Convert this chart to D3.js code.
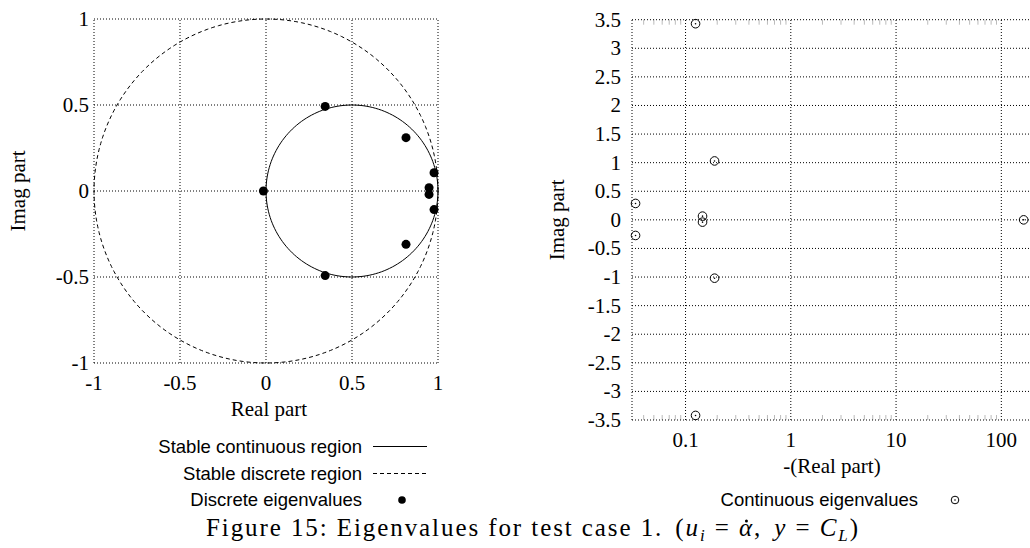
<!DOCTYPE html>
<html><head><meta charset="utf-8">
<script src="https://cdn.jsdelivr.net/npm/d3@7"></script>
<style>body{margin:0;background:#fff}</style>
</head><body>
<svg id="fig" width="1030" height="548"></svg>
<script>
// Discrete-time eigenvalues (z-plane)
const discreteRe = [-0.015, 0.344, 0.344, 0.814, 0.814, 0.977, 0.977, 0.948, 0.948];
const discreteIm = [0, 0.492, -0.492, 0.31, -0.31, 0.106, -0.108, 0.019, -0.02];
// Continuous-time eigenvalues, plotted as -(real part) on a log axis
const contNegRe = [0.1245, 0.1245, 0.1886, 0.1886, 0.0335, 0.0335, 0.145, 0.145, 163];
const contIm = [3.43, -3.42, 1.03, -1.02, 0.287, -0.273, 0.065, -0.04, 0];
// Axis ticks
const leftTicks = [-1, -0.5, 0, 0.5, 1];
const leftTickLabels = ["-1", "-0.5", "0", "0.5", "1"];
const rightYTicks = [-3.5, -3, -2.5, -2, -1.5, -1, -0.5, 0, 0.5, 1, 1.5, 2, 2.5, 3, 3.5];
const rightYTickLabels = ["-3.5", "-3", "-2.5", "-2", "-1.5", "-1", "-0.5", "0", "0.5", "1", "1.5", "2", "2.5", "3", "3.5"];
const rightXTicks = [0.1, 1, 10, 100];
const rightXTickLabels = ["0.1", "1", "10", "100"];
// Stability regions: centre (re, im) and radius
const contRegion = {cx: 0.5, cy: 0, r: 0.5};
const discRegion = {cx: 0, cy: 0, r: 1};

const svg = d3.select("#fig");
const serif = "'Liberation Serif', 'Times New Roman', serif";
const sans = "'Liberation Sans', Arial, sans-serif";
const dotted = "1 2";

// ---------- left panel: z-plane ----------
const xL = d3.scaleLinear().domain([-1, 1]).range([94, 438]);
const yL = d3.scaleLinear().domain([-1, 1]).range([363, 19]);
const gL = svg.append("g");

leftTicks.forEach(t => {
  gL.append("line").attr("x1", xL(t)).attr("x2", xL(t)).attr("y1", yL(-1)).attr("y2", yL(1))
    .attr("stroke", "#000").attr("stroke-dasharray", dotted);
  gL.append("line").attr("x1", xL(-1)).attr("x2", xL(1)).attr("y1", yL(t)).attr("y2", yL(t))
    .attr("stroke", "#000").attr("stroke-dasharray", dotted);
});
leftTicks.forEach((t, i) => {
  gL.append("text").attr("x", xL(t)).attr("y", yL(-1) + 27).attr("text-anchor", "middle")
    .attr("font-family", serif).attr("font-size", 21).text(leftTickLabels[i]);
  gL.append("text").attr("x", xL(-1) - 5).attr("y", yL(t) + 7).attr("text-anchor", "end")
    .attr("font-family", serif).attr("font-size", 21).text(leftTickLabels[i]);
});

function circlePath(c, xs, ys) {
  const pts = d3.range(0, 361, 2).map(a => [c.cx + c.r * Math.cos(a * Math.PI / 180), c.cy + c.r * Math.sin(a * Math.PI / 180)]);
  return d3.line().x(d => xs(d[0])).y(d => ys(d[1]))(pts);
}
gL.append("path").attr("d", circlePath(discRegion, xL, yL)).attr("fill", "none")
  .attr("stroke", "#000").attr("stroke-width", 1).attr("stroke-dasharray", "4 3");
gL.append("path").attr("d", circlePath(contRegion, xL, yL)).attr("fill", "none")
  .attr("stroke", "#000").attr("stroke-width", 1);

gL.selectAll("circle.de").data(discreteRe).join("circle").attr("class", "de")
  .attr("cx", d => xL(d)).attr("cy", (d, i) => yL(discreteIm[i])).attr("r", 4.5).attr("fill", "#000");

gL.append("text").attr("x", xL(0) + 3).attr("y", 416).attr("text-anchor", "middle")
  .attr("font-family", serif).attr("font-size", 21).text("Real part");
gL.append("text").attr("transform", `translate(25,${yL(0)}) rotate(-90)`).attr("text-anchor", "middle")
  .attr("font-family", serif).attr("font-size", 21).text("Imag part");

// ---------- right panel: s-plane (log) ----------
const xR = d3.scaleLog().domain([0.031, 200]).range([632, 1033]);
const yR = d3.scaleLinear().domain([-3.5, 3.5]).range([420, 19.7]);
const gR = svg.append("g");

// minor log ticks
const minor = [];
[0.01, 0.1, 1, 10, 100].forEach(dec => { for (let k = 2; k <= 9; k++) { const v = dec * k; if (v > 0.031 && v < 200) minor.push(v); } });
minor.forEach(v => {
  gR.append("line").attr("x1", xR(v)).attr("x2", xR(v)).attr("y1", yR(3.5)).attr("y2", yR(3.5) + 5)
    .attr("stroke", "#aaa").attr("stroke-width", 0.8);
  gR.append("line").attr("x1", xR(v)).attr("x2", xR(v)).attr("y1", yR(-3.5)).attr("y2", yR(-3.5) - 5)
    .attr("stroke", "#aaa").attr("stroke-width", 0.8);
});

rightYTicks.forEach((t, i) => {
  gR.append("line").attr("x1", xR(0.031)).attr("x2", xR(200)).attr("y1", yR(t)).attr("y2", yR(t))
    .attr("stroke", "#000").attr("stroke-dasharray", dotted);
  gR.append("text").attr("x", xR(0.031) - 11).attr("y", yR(t) + 7).attr("text-anchor", "end")
    .attr("font-family", serif).attr("font-size", 21).text(rightYTickLabels[i]);
});
[0.031, ...rightXTicks].forEach(t => {
  gR.append("line").attr("x1", xR(t)).attr("x2", xR(t)).attr("y1", yR(-3.5)).attr("y2", yR(3.5))
    .attr("stroke", "#000").attr("stroke-dasharray", dotted);
});
rightXTicks.forEach((t, i) => {
  gR.append("text").attr("x", xR(t)).attr("y", yR(-3.5) + 27).attr("text-anchor", "middle")
    .attr("font-family", serif).attr("font-size", 21).text(rightXTickLabels[i]);
});

const ce = gR.selectAll("g.ce").data(contNegRe).join("g").attr("class", "ce")
  .attr("transform", (d, i) => `translate(${xR(d)},${yR(contIm[i])})`);
ce.append("circle").attr("r", 4.3).attr("fill", "none").attr("stroke", "#000").attr("stroke-width", 1);
ce.append("circle").attr("r", 0.8).attr("fill", "#000");

gR.append("text").attr("x", 832).attr("y", 473).attr("text-anchor", "middle")
  .attr("font-family", serif).attr("font-size", 21).text("-(Real part)");
gR.append("text").attr("transform", `translate(564,${yR(0)}) rotate(-90)`).attr("text-anchor", "middle")
  .attr("font-family", serif).attr("font-size", 21).text("Imag part");

// ---------- legends ----------
const lg = svg.append("g").attr("font-family", sans).attr("font-size", 18.5);
lg.append("text").attr("x", 362).attr("y", 453).attr("text-anchor", "end").text("Stable continuous region");
lg.append("line").attr("x1", 373).attr("x2", 427).attr("y1", 446.5).attr("y2", 446.5).attr("stroke", "#000");
lg.append("text").attr("x", 362).attr("y", 480).attr("text-anchor", "end").text("Stable discrete region");
lg.append("line").attr("x1", 373).attr("x2", 427).attr("y1", 473.5).attr("y2", 473.5).attr("stroke", "#000").attr("stroke-dasharray", "4 3");
lg.append("text").attr("x", 362).attr("y", 506).attr("text-anchor", "end").text("Discrete eigenvalues");
lg.append("circle").attr("cx", 402).attr("cy", 500).attr("r", 3.8).attr("fill", "#000");

lg.append("text").attr("x", 918).attr("y", 506).attr("text-anchor", "end").text("Continuous eigenvalues");
lg.append("circle").attr("cx", 955).attr("cy", 500).attr("r", 3.8).attr("fill", "none").attr("stroke", "#000");
lg.append("circle").attr("cx", 955).attr("cy", 500).attr("r", 0.8).attr("fill", "#000");

// ---------- caption ----------
const capLeft = 206, capRight = 842, capBase = 536;
const cap = svg.append("text").attr("x", capLeft).attr("y", capBase).attr("font-family", serif).attr("font-size", 25);
cap.append("tspan").text("Figure 15: Eigenvalues for test case 1.");
cap.append("tspan").attr("dx", 12).text("(");
cap.append("tspan").attr("font-style", "italic").text("u");
cap.append("tspan").attr("font-style", "italic").attr("font-size", 17).attr("dy", 5).text("i");
cap.append("tspan").attr("dy", -5).text(" = ");
const alpha = cap.append("tspan").attr("font-style", "italic").text("\u03B1");
cap.append("tspan").text(", ");
cap.append("tspan").attr("dx", 4).attr("font-style", "italic").text("y");
cap.append("tspan").text(" = ");
cap.append("tspan").attr("font-style", "italic").text("C");
cap.append("tspan").attr("font-style", "italic").attr("font-size", 17).attr("dy", 5).text("L");
cap.append("tspan").attr("dy", -5).text(")");
// spread the caption to its column width
const natural = cap.node().getComputedTextLength();
const nChars = cap.text().length;
cap.attr("letter-spacing", Math.max(0, ((capRight - capLeft) - natural) / (nChars - 1)));
// dot accent over alpha
const ab = alpha.node().getBBox();
svg.append("circle").attr("cx", ab.x + ab.width * 0.5).attr("cy", capBase - 15).attr("r", 1.5).attr("fill", "#000");
</script>
</body></html>
